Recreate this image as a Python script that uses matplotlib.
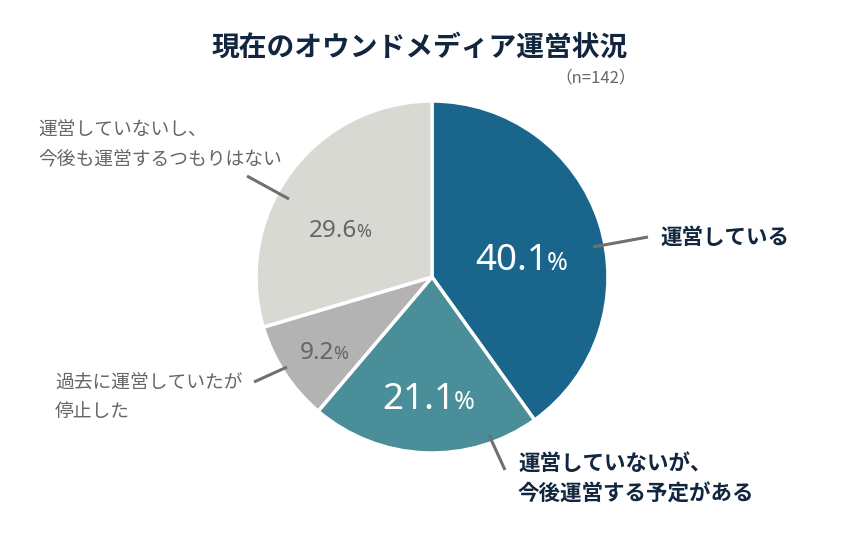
import matplotlib.pyplot as plt

plt.rcParams['font.family'] = ['Noto Sans CJK JP', 'DejaVu Sans']

# data
labels = ['運営している', '運営していないが、\n今後運営する予定がある',
          '過去に運営していたが\n停止した', '運営していないし、\n今後も運営するつもりはない']
values = [40.1, 21.1, 9.2, 29.6]
colors = ['#1a658c', '#4a8e99', '#b3b3b3', '#d9d9d4']
title = '現在のオウンドメディア運営状況'
n_text = '（n=142）'

H = 546
fig = plt.figure(figsize=(8.41, 5.46), dpi=100)
ax = fig.add_axes([0, 0, 1, 1])

ax.pie(values, colors=colors, startangle=90, counterclock=False,
       center=(432, H - 277), radius=176,
       wedgeprops=dict(edgecolor='white', linewidth=2.5))

# pie resets the limits, so set them afterwards
ax.set_xlim(0, 841)
ax.set_ylim(0, H)
ax.set_aspect('equal')
ax.axis('off')

navy = '#13263f'
gray = '#666666'
line_c = '#707070'

ax.text(420, H - 48, title, ha='center', va='center', fontsize=20,
        fontweight='bold', color=navy)
ax.text(636, H - 78, n_text, ha='right', va='center', fontsize=12, color=gray)

# percentages: (split x, baseline y, big size, small size, color)
pct_style = [
    (548, 270, 26.5, 18, 'white'),
    (455, 409, 26.5, 18, 'white'),
    (334, 359, 17.5, 13, gray),
    (357, 237, 17.5, 13, gray),
]
for v, (x, y, s1, s2, c) in zip(values, pct_style):
    ax.text(x, H - y, f'{v:.1f}', ha='right', va='baseline', fontsize=s1,
            color=c, family=['Noto Sans', 'DejaVu Sans'])
    ax.text(x - 1, H - y, '%', ha='left', va='baseline', fontsize=s2,
            color=c, family=['Noto Sans', 'DejaVu Sans'])

# category labels: (x, y, ha, weight, color, size)
lab_style = [
    (660, 237, 'left', 'bold', navy, 15.5),
    (518, 479, 'left', 'bold', navy, 15.5),
    (55, 397, 'left', 'normal', gray, 13.5),
    (38, 144, 'left', 'normal', gray, 13.5),
]
for lab, (x, y, ha, w, c, s) in zip(labels, lab_style):
    ax.text(x, H - y, lab, ha=ha, va='center', fontsize=s, fontweight=w,
            color=c, linespacing=1.55)

# leader lines
leaders = [
    ((593, 247), (648, 237)),
    ((489, 435), (505, 470)),
    ((254, 382), (287, 367)),
    ((247, 176), (289, 199)),
]
for (x0, y0), (x1, y1) in leaders:
    ax.plot([x0, x1], [H - y0, H - y1], color=line_c, linewidth=2.2,
            solid_capstyle='butt')

fig.savefig('out.png', dpi=100)
